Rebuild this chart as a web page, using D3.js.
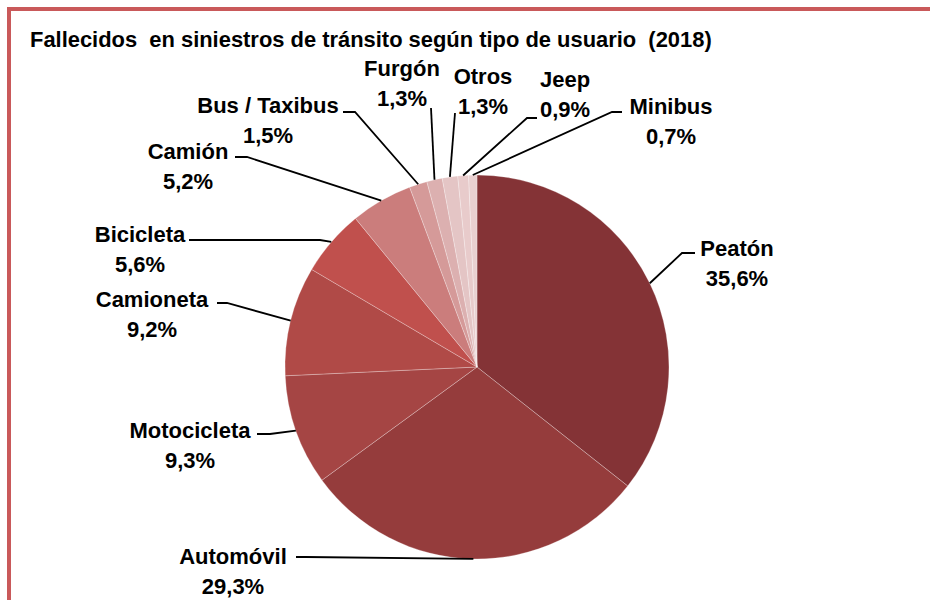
<!DOCTYPE html>
<html>
<head>
<meta charset="utf-8">
<script src="https://cdn.jsdelivr.net/npm/d3@7"></script>
<style>
  body { margin: 0; background: #fff; }
  svg text { font-family: "Liberation Sans", Arial, sans-serif; font-weight: bold; fill: #000; }
</style>
</head>
<body>
<svg id="pie-chart" width="930" height="600"></svg>
<script>
// data
const categories = ['Peatón', 'Automóvil', 'Motocicleta', 'Camioneta', 'Bicicleta', 'Camión',
    'Bus / Taxibus', 'Furgón', 'Otros', 'Jeep', 'Minibus'];
const values = [35.6, 29.3, 9.3, 9.2, 5.6, 5.2, 1.5, 1.3, 1.3, 0.9, 0.7];
const colors = ['#843336', '#953c3c', '#a54544', '#b04a47', '#c0504d', '#cb7d7c',
    '#d59a99', '#dcb0b0', '#e4c5c5', '#e8cbcb', '#e9d0d0'];
const title = 'Fallecidos\u00a0 en siniestros de tránsito según tipo de usuario\u00a0 (2018)';

// label layout: text centre x, first baseline y, elbow x/y, end x of leader
const labelPos = [
    [737, 256, 682, 253, 695],
    [233, 564, 306, 557, 296],
    [190, 438, 270, 434, 257],
    [152, 307, 227, 303, 217],
    [140, 242, 320, 240, 189],
    [188, 159, 247, 157, 235],
    [268, 113, 355, 112, 343],
    [402, 76, 431, 108, 431],
    [483, 84, 455, 113, 455],
    [565, 87, 527, 118, 537],
    [671, 114, 612, 112, 622]
];

const svg = d3.select('svg#pie-chart');
const cx = 477, cy = 367, radius = 192;

const locale = d3.formatLocale({decimal: ',', thousands: '.', grouping: [3], currency: ['', '']});
const pct = d => locale.format('.1f')(d) + '%';

// frame
svg.append('rect')
    .attr('x', 9).attr('y', 9)
    .attr('width', 960).attr('height', 640)
    .attr('fill', 'none')
    .attr('stroke', '#c9595a')
    .attr('stroke-width', 4);

// title, sized to the reference width
const t = svg.append('text')
    .attr('x', 30).attr('y', 47)
    .style('font-size', '18px')
    .text(title);
const tw = t.node().getComputedTextLength();
t.style('font-size', (18 * 682 / tw) + 'px');

const data = categories.map((c, i) => ({name: c, value: values[i], color: colors[i], pos: labelPos[i]}));

const pie = d3.pie().sort(null).value(d => d.value);
const arc = d3.arc().innerRadius(0).outerRadius(radius);
const arcs = pie(data);

const g = svg.append('g').attr('transform', `translate(${cx}, ${cy})`);

g.selectAll('path.slice').data(arcs)
    .enter().append('path')
    .attr('class', 'slice')
    .attr('d', arc)
    .attr('fill', d => d.data.color)
    .attr('stroke', 'rgba(255,255,255,0.45)')
    .attr('stroke-width', 0.6);

// leader lines
const edgePoint = d => {
    const a = (d.startAngle + d.endAngle) / 2;
    return [cx + radius * Math.sin(a), cy - radius * Math.cos(a)];
};

svg.selectAll('path.leader').data(arcs)
    .enter().append('path')
    .attr('class', 'leader')
    .attr('fill', 'none')
    .attr('stroke', '#000')
    .attr('stroke-width', 1.8)
    .attr('d', d => {
        const p = edgePoint(d);
        const [, , ex, ey, endX] = d.data.pos;
        return d3.line()([p, [ex, ey], [endX, ey]]);
    });

// labels
const labels = svg.selectAll('text.lbl').data(arcs)
    .enter().append('text')
    .attr('class', 'lbl')
    .attr('text-anchor', 'middle')
    .style('font-size', '22px');

labels.append('tspan')
    .attr('x', d => d.data.pos[0])
    .attr('y', d => d.data.pos[1])
    .text(d => d.data.name);
labels.append('tspan')
    .attr('x', d => d.data.pos[0])
    .attr('y', d => d.data.pos[1] + 30)
    .text(d => pct(d.data.value));
</script>
</body>
</html>
